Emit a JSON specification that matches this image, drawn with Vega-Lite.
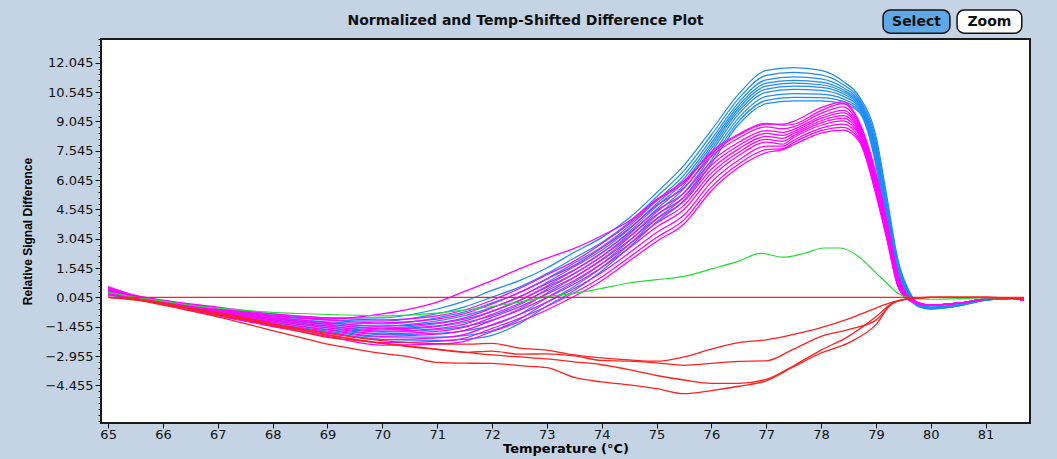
{
"$schema": "https://vega.github.io/schema/vega-lite/v6.json",
"width": 929, "height": 384,
"autosize": {"type": "none"},
"padding": {"left": 101, "top": 39, "right": 27, "bottom": 36},
"background": "#c4d4e4",
"config": {"view": {"fill": "white", "stroke": "#1a1a1a", "strokeWidth": 2}},
"title": {"text": "Normalized and Temp-Shifted Difference Plot", "font": "DejaVu Sans", "fontSize": 14, "fontWeight": "bold", "color": "#111", "anchor": "middle", "dx": -40, "offset": -19},
"datasets": {"curves": [
{"s":"R0","t":65,"v":0.045},{"s":"R0","t":81.7,"v":0.045},
{"s":"B1","t":65,"v":0.45},{"s":"B1","t":65.5,"v":0.08},{"s":"B1","t":66,"v":-0.15},{"s":"B1","t":67,"v":-0.5},{"s":"B1","t":68,"v":-0.8},{"s":"B1","t":69,"v":-1.0},{"s":"B1","t":70,"v":-1.0},{"s":"B1","t":71,"v":-0.55},{"s":"B1","t":71.5,"v":-0.15},{"s":"B1","t":72,"v":0.4},{"s":"B1","t":72.5,"v":0.9},{"s":"B1","t":73,"v":1.55},{"s":"B1","t":73.5,"v":2.35},{"s":"B1","t":74,"v":3.1},{"s":"B1","t":74.5,"v":4.1},{"s":"B1","t":75,"v":5.4},{"s":"B1","t":75.5,"v":6.8},{"s":"B1","t":76,"v":8.6},{"s":"B1","t":76.5,"v":10.45},{"s":"B1","t":77,"v":11.65},{"s":"B1","t":77.5,"v":11.8},{"s":"B1","t":78,"v":11.65},{"s":"B1","t":78.4,"v":11.1},{"s":"B1","t":78.7,"v":10.3},{"s":"B1","t":79,"v":8.3},{"s":"B1","t":79.2,"v":5.2},{"s":"B1","t":79.4,"v":2.0},{"s":"B1","t":79.6,"v":0.4},{"s":"B1","t":79.8,"v":-0.3},{"s":"B1","t":80,"v":-0.45},{"s":"B1","t":80.5,"v":-0.3},{"s":"B1","t":81,"v":-0.05},{"s":"B1","t":81.5,"v":0},{"s":"B1","t":81.7,"v":-0.1},
{"s":"B2","t":65,"v":0.41},{"s":"B2","t":65.5,"v":0.07},{"s":"B2","t":66,"v":-0.17},{"s":"B2","t":67,"v":-0.55},{"s":"B2","t":68,"v":-0.88},{"s":"B2","t":69,"v":-1.11},{"s":"B2","t":70,"v":-1.17},{"s":"B2","t":71,"v":-0.79},{"s":"B2","t":71.5,"v":-0.44},{"s":"B2","t":72,"v":0.06},{"s":"B2","t":72.5,"v":0.57},{"s":"B2","t":73,"v":1.26},{"s":"B2","t":73.5,"v":2.06},{"s":"B2","t":74,"v":2.85},{"s":"B2","t":74.5,"v":3.88},{"s":"B2","t":75,"v":5.18},{"s":"B2","t":75.5,"v":6.53},{"s":"B2","t":76,"v":8.35},{"s":"B2","t":76.5,"v":10.22},{"s":"B2","t":77,"v":11.4},{"s":"B2","t":77.5,"v":11.55},{"s":"B2","t":78,"v":11.42},{"s":"B2","t":78.4,"v":10.93},{"s":"B2","t":78.7,"v":10.18},{"s":"B2","t":79,"v":8.08},{"s":"B2","t":79.2,"v":4.95},{"s":"B2","t":79.4,"v":1.85},{"s":"B2","t":79.6,"v":0.34},{"s":"B2","t":79.8,"v":-0.32},{"s":"B2","t":80,"v":-0.47},{"s":"B2","t":80.5,"v":-0.32},{"s":"B2","t":81,"v":-0.06},{"s":"B2","t":81.5,"v":0.02},{"s":"B2","t":81.7,"v":-0.1},
{"s":"B3","t":65,"v":0.37},{"s":"B3","t":65.5,"v":0.05},{"s":"B3","t":66,"v":-0.18},{"s":"B3","t":67,"v":-0.6},{"s":"B3","t":68,"v":-0.95},{"s":"B3","t":69,"v":-1.21},{"s":"B3","t":70,"v":-1.31},{"s":"B3","t":71,"v":-1.0},{"s":"B3","t":71.5,"v":-0.7},{"s":"B3","t":72,"v":-0.24},{"s":"B3","t":72.5,"v":0.28},{"s":"B3","t":73,"v":1.0},{"s":"B3","t":73.5,"v":1.8},{"s":"B3","t":74,"v":2.62},{"s":"B3","t":74.5,"v":3.68},{"s":"B3","t":75,"v":4.98},{"s":"B3","t":75.5,"v":6.3},{"s":"B3","t":76,"v":8.12},{"s":"B3","t":76.5,"v":10.02},{"s":"B3","t":77,"v":11.17},{"s":"B3","t":77.5,"v":11.32},{"s":"B3","t":78,"v":11.22},{"s":"B3","t":78.4,"v":10.78},{"s":"B3","t":78.7,"v":10.08},{"s":"B3","t":79,"v":7.88},{"s":"B3","t":79.2,"v":4.72},{"s":"B3","t":79.4,"v":1.72},{"s":"B3","t":79.6,"v":0.29},{"s":"B3","t":79.8,"v":-0.34},{"s":"B3","t":80,"v":-0.48},{"s":"B3","t":80.5,"v":-0.33},{"s":"B3","t":81,"v":-0.06},{"s":"B3","t":81.5,"v":-0.01},{"s":"B3","t":81.7,"v":-0.1},
{"s":"B4","t":65,"v":0.34},{"s":"B4","t":65.5,"v":0.04},{"s":"B4","t":66,"v":-0.19},{"s":"B4","t":67,"v":-0.63},{"s":"B4","t":68,"v":-1.01},{"s":"B4","t":69,"v":-1.29},{"s":"B4","t":70,"v":-1.42},{"s":"B4","t":71,"v":-1.16},{"s":"B4","t":71.5,"v":-0.89},{"s":"B4","t":72,"v":-0.47},{"s":"B4","t":72.5,"v":0.06},{"s":"B4","t":73,"v":0.81},{"s":"B4","t":73.5,"v":1.61},{"s":"B4","t":74,"v":2.45},{"s":"B4","t":74.5,"v":3.53},{"s":"B4","t":75,"v":4.83},{"s":"B4","t":75.5,"v":6.12},{"s":"B4","t":76,"v":7.95},{"s":"B4","t":76.5,"v":9.86},{"s":"B4","t":77,"v":11.0},{"s":"B4","t":77.5,"v":11.15},{"s":"B4","t":78,"v":11.06},{"s":"B4","t":78.4,"v":10.66},{"s":"B4","t":78.7,"v":10.0},{"s":"B4","t":79,"v":7.73},{"s":"B4","t":79.2,"v":4.55},{"s":"B4","t":79.4,"v":1.62},{"s":"B4","t":79.6,"v":0.25},{"s":"B4","t":79.8,"v":-0.36},{"s":"B4","t":80,"v":-0.49},{"s":"B4","t":80.5,"v":-0.34},{"s":"B4","t":81,"v":-0.07},{"s":"B4","t":81.5,"v":0.01},{"s":"B4","t":81.7,"v":-0.1},
{"s":"B5","t":65,"v":0.31},{"s":"B5","t":65.5,"v":0.03},{"s":"B5","t":66,"v":-0.2},{"s":"B5","t":67,"v":-0.66},{"s":"B5","t":68,"v":-1.06},{"s":"B5","t":69,"v":-1.35},{"s":"B5","t":70,"v":-1.52},{"s":"B5","t":71,"v":-1.3},{"s":"B5","t":71.5,"v":-1.07},{"s":"B5","t":72,"v":-0.68},{"s":"B5","t":72.5,"v":-0.13},{"s":"B5","t":73,"v":0.63},{"s":"B5","t":73.5,"v":1.43},{"s":"B5","t":74,"v":2.3},{"s":"B5","t":74.5,"v":3.4},{"s":"B5","t":75,"v":4.7},{"s":"B5","t":75.5,"v":5.95},{"s":"B5","t":76,"v":7.8},{"s":"B5","t":76.5,"v":9.72},{"s":"B5","t":77,"v":10.85},{"s":"B5","t":77.5,"v":11.0},{"s":"B5","t":78,"v":10.92},{"s":"B5","t":78.4,"v":10.56},{"s":"B5","t":78.7,"v":9.92},{"s":"B5","t":79,"v":7.6},{"s":"B5","t":79.2,"v":4.4},{"s":"B5","t":79.4,"v":1.53},{"s":"B5","t":79.6,"v":0.21},{"s":"B5","t":79.8,"v":-0.37},{"s":"B5","t":80,"v":-0.5},{"s":"B5","t":80.5,"v":-0.35},{"s":"B5","t":81,"v":-0.07},{"s":"B5","t":81.5,"v":0},{"s":"B5","t":81.7,"v":-0.1},
{"s":"B6","t":65,"v":0.28},{"s":"B6","t":65.5,"v":0.02},{"s":"B6","t":66,"v":-0.21},{"s":"B6","t":67,"v":-0.7},{"s":"B6","t":68,"v":-1.11},{"s":"B6","t":69,"v":-1.42},{"s":"B6","t":70,"v":-1.62},{"s":"B6","t":71,"v":-1.45},{"s":"B6","t":71.5,"v":-1.24},{"s":"B6","t":72,"v":-0.89},{"s":"B6","t":72.5,"v":-0.33},{"s":"B6","t":73,"v":0.46},{"s":"B6","t":73.5,"v":1.26},{"s":"B6","t":74,"v":2.15},{"s":"B6","t":74.5,"v":3.26},{"s":"B6","t":75,"v":4.56},{"s":"B6","t":75.5,"v":5.79},{"s":"B6","t":76,"v":7.65},{"s":"B6","t":76.5,"v":9.58},{"s":"B6","t":77,"v":10.7},{"s":"B6","t":77.5,"v":10.85},{"s":"B6","t":78,"v":10.78},{"s":"B6","t":78.4,"v":10.46},{"s":"B6","t":78.7,"v":9.85},{"s":"B6","t":79,"v":7.46},{"s":"B6","t":79.2,"v":4.25},{"s":"B6","t":79.4,"v":1.44},{"s":"B6","t":79.6,"v":0.18},{"s":"B6","t":79.8,"v":-0.38},{"s":"B6","t":80,"v":-0.51},{"s":"B6","t":80.5,"v":-0.36},{"s":"B6","t":81,"v":-0.08},{"s":"B6","t":81.5,"v":-0.02},{"s":"B6","t":81.7,"v":-0.1},
{"s":"B7","t":65,"v":0.25},{"s":"B7","t":65.5,"v":0.01},{"s":"B7","t":66,"v":-0.22},{"s":"B7","t":67,"v":-0.73},{"s":"B7","t":68,"v":-1.16},{"s":"B7","t":69,"v":-1.5},{"s":"B7","t":70,"v":-1.73},{"s":"B7","t":71,"v":-1.61},{"s":"B7","t":71.5,"v":-1.44},{"s":"B7","t":72,"v":-1.12},{"s":"B7","t":72.5,"v":-0.55},{"s":"B7","t":73,"v":0.26},{"s":"B7","t":73.5,"v":1.06},{"s":"B7","t":74,"v":1.98},{"s":"B7","t":74.5,"v":3.11},{"s":"B7","t":75,"v":4.41},{"s":"B7","t":75.5,"v":5.61},{"s":"B7","t":76,"v":7.48},{"s":"B7","t":76.5,"v":9.43},{"s":"B7","t":77,"v":10.53},{"s":"B7","t":77.5,"v":10.68},{"s":"B7","t":78,"v":10.63},{"s":"B7","t":78.4,"v":10.34},{"s":"B7","t":78.7,"v":9.77},{"s":"B7","t":79,"v":7.31},{"s":"B7","t":79.2,"v":4.08},{"s":"B7","t":79.4,"v":1.34},{"s":"B7","t":79.6,"v":0.14},{"s":"B7","t":79.8,"v":-0.4},{"s":"B7","t":80,"v":-0.52},{"s":"B7","t":80.5,"v":-0.37},{"s":"B7","t":81,"v":-0.08},{"s":"B7","t":81.5,"v":0.01},{"s":"B7","t":81.7,"v":-0.1},
{"s":"B8","t":65,"v":0.22},{"s":"B8","t":65.5,"v":0},{"s":"B8","t":66,"v":-0.23},{"s":"B8","t":67,"v":-0.77},{"s":"B8","t":68,"v":-1.23},{"s":"B8","t":69,"v":-1.59},{"s":"B8","t":70,"v":-1.86},{"s":"B8","t":71,"v":-1.8},{"s":"B8","t":71.5,"v":-1.67},{"s":"B8","t":72,"v":-1.39},{"s":"B8","t":72.5,"v":-0.82},{"s":"B8","t":73,"v":0.03},{"s":"B8","t":73.5,"v":0.83},{"s":"B8","t":74,"v":1.77},{"s":"B8","t":74.5,"v":2.93},{"s":"B8","t":75,"v":4.23},{"s":"B8","t":75.5,"v":5.4},{"s":"B8","t":76,"v":7.27},{"s":"B8","t":76.5,"v":9.24},{"s":"B8","t":77,"v":10.32},{"s":"B8","t":77.5,"v":10.47},{"s":"B8","t":78,"v":10.44},{"s":"B8","t":78.4,"v":10.2},{"s":"B8","t":78.7,"v":9.68},{"s":"B8","t":79,"v":7.13},{"s":"B8","t":79.2,"v":3.87},{"s":"B8","t":79.4,"v":1.22},{"s":"B8","t":79.6,"v":0.09},{"s":"B8","t":79.8,"v":-0.42},{"s":"B8","t":80,"v":-0.53},{"s":"B8","t":80.5,"v":-0.38},{"s":"B8","t":81,"v":-0.09},{"s":"B8","t":81.5,"v":0},{"s":"B8","t":81.7,"v":-0.1},
{"s":"B9","t":65,"v":0.18},{"s":"B9","t":65.5,"v":-0.01},{"s":"B9","t":66,"v":-0.24},{"s":"B9","t":67,"v":-0.82},{"s":"B9","t":68,"v":-1.3},{"s":"B9","t":69,"v":-1.68},{"s":"B9","t":70,"v":-1.99},{"s":"B9","t":71,"v":-1.99},{"s":"B9","t":71.5,"v":-1.91},{"s":"B9","t":72,"v":-1.67},{"s":"B9","t":72.5,"v":-1.08},{"s":"B9","t":73,"v":-0.2},{"s":"B9","t":73.5,"v":0.6},{"s":"B9","t":74,"v":1.57},{"s":"B9","t":74.5,"v":2.75},{"s":"B9","t":75,"v":4.05},{"s":"B9","t":75.5,"v":5.18},{"s":"B9","t":76,"v":7.07},{"s":"B9","t":76.5,"v":9.06},{"s":"B9","t":77,"v":10.12},{"s":"B9","t":77.5,"v":10.27},{"s":"B9","t":78,"v":10.26},{"s":"B9","t":78.4,"v":10.07},{"s":"B9","t":78.7,"v":9.58},{"s":"B9","t":79,"v":6.95},{"s":"B9","t":79.2,"v":3.67},{"s":"B9","t":79.4,"v":1.1},{"s":"B9","t":79.6,"v":0.04},{"s":"B9","t":79.8,"v":-0.44},{"s":"B9","t":80,"v":-0.54},{"s":"B9","t":80.5,"v":-0.39},{"s":"B9","t":81,"v":-0.1},{"s":"B9","t":81.5,"v":-0.01},{"s":"B9","t":81.7,"v":-0.1},
{"s":"B10","t":65,"v":0.15},{"s":"B10","t":65.5,"v":-0.02},{"s":"B10","t":66,"v":-0.25},{"s":"B10","t":67,"v":-0.85},{"s":"B10","t":68,"v":-1.35},{"s":"B10","t":69,"v":-1.75},{"s":"B10","t":70,"v":-2.1},{"s":"B10","t":71,"v":-2.15},{"s":"B10","t":71.5,"v":-2.1},{"s":"B10","t":72,"v":-1.9},{"s":"B10","t":72.5,"v":-1.3},{"s":"B10","t":73,"v":-0.4},{"s":"B10","t":73.5,"v":0.4},{"s":"B10","t":74,"v":1.4},{"s":"B10","t":74.5,"v":2.6},{"s":"B10","t":75,"v":3.9},{"s":"B10","t":75.5,"v":5.0},{"s":"B10","t":76,"v":6.9},{"s":"B10","t":76.5,"v":8.9},{"s":"B10","t":77,"v":9.95},{"s":"B10","t":77.5,"v":10.1},{"s":"B10","t":78,"v":10.1},{"s":"B10","t":78.4,"v":9.95},{"s":"B10","t":78.7,"v":9.5},{"s":"B10","t":79,"v":6.8},{"s":"B10","t":79.2,"v":3.5},{"s":"B10","t":79.4,"v":1.0},{"s":"B10","t":79.6,"v":0},{"s":"B10","t":79.8,"v":-0.45},{"s":"B10","t":80,"v":-0.55},{"s":"B10","t":80.5,"v":-0.4},{"s":"B10","t":81,"v":-0.1},{"s":"B10","t":81.5,"v":0},{"s":"B10","t":81.7,"v":-0.1},
{"s":"M1","t":65,"v":0.55},{"s":"M1","t":65.5,"v":0.1},{"s":"M1","t":66,"v":-0.15},{"s":"M1","t":67,"v":-0.55},{"s":"M1","t":68,"v":-0.9},{"s":"M1","t":69,"v":-1.05},{"s":"M1","t":70,"v":-0.8},{"s":"M1","t":71,"v":-0.2},{"s":"M1","t":71.5,"v":0.35},{"s":"M1","t":72,"v":0.9},{"s":"M1","t":72.5,"v":1.5},{"s":"M1","t":73,"v":2.05},{"s":"M1","t":73.5,"v":2.55},{"s":"M1","t":74,"v":3.2},{"s":"M1","t":74.5,"v":3.95},{"s":"M1","t":75,"v":5.05},{"s":"M1","t":75.5,"v":6.0},{"s":"M1","t":76,"v":7.4},{"s":"M1","t":76.5,"v":8.35},{"s":"M1","t":77,"v":8.9},{"s":"M1","t":77.3,"v":8.9},{"s":"M1","t":77.5,"v":9.05},{"s":"M1","t":78,"v":9.75},{"s":"M1","t":78.4,"v":10.05},{"s":"M1","t":78.7,"v":9.0},{"s":"M1","t":79,"v":6.4},{"s":"M1","t":79.2,"v":3.95},{"s":"M1","t":79.4,"v":1.25},{"s":"M1","t":79.6,"v":0.06},{"s":"M1","t":79.8,"v":-0.25},{"s":"M1","t":80,"v":-0.35},{"s":"M1","t":80.5,"v":-0.25},{"s":"M1","t":81,"v":-0.05},{"s":"M1","t":81.5,"v":0},{"s":"M1","t":81.7,"v":-0.1},
{"s":"M2","t":65,"v":0.6},{"s":"M2","t":65.5,"v":0.15},{"s":"M2","t":66,"v":-0.1},{"s":"M2","t":67,"v":-0.45},{"s":"M2","t":68,"v":-0.8},{"s":"M2","t":69,"v":-1.0},{"s":"M2","t":70,"v":-1.1},{"s":"M2","t":71,"v":-0.9},{"s":"M2","t":71.5,"v":-0.6},{"s":"M2","t":72,"v":-0.1},{"s":"M2","t":72.5,"v":0.5},{"s":"M2","t":73,"v":1.2},{"s":"M2","t":73.5,"v":1.9},{"s":"M2","t":74,"v":2.8},{"s":"M2","t":74.5,"v":3.8},{"s":"M2","t":75,"v":5.0},{"s":"M2","t":75.5,"v":5.9},{"s":"M2","t":76,"v":7.5},{"s":"M2","t":76.5,"v":8.4},{"s":"M2","t":77,"v":8.95},{"s":"M2","t":77.3,"v":8.85},{"s":"M2","t":77.5,"v":8.9},{"s":"M2","t":78,"v":9.6},{"s":"M2","t":78.4,"v":9.95},{"s":"M2","t":78.7,"v":8.9},{"s":"M2","t":79,"v":6.3},{"s":"M2","t":79.2,"v":3.9},{"s":"M2","t":79.4,"v":1.2},{"s":"M2","t":79.6,"v":0.05},{"s":"M2","t":79.8,"v":-0.25},{"s":"M2","t":80,"v":-0.35},{"s":"M2","t":80.5,"v":-0.25},{"s":"M2","t":81,"v":-0.05},{"s":"M2","t":81.5,"v":0},{"s":"M2","t":81.7,"v":-0.1},
{"s":"M3","t":65,"v":0.55},{"s":"M3","t":65.5,"v":0.13},{"s":"M3","t":66,"v":-0.12},{"s":"M3","t":67,"v":-0.5},{"s":"M3","t":68,"v":-0.88},{"s":"M3","t":69,"v":-1.11},{"s":"M3","t":70,"v":-1.26},{"s":"M3","t":71,"v":-1.07},{"s":"M3","t":71.5,"v":-0.79},{"s":"M3","t":72,"v":-0.29},{"s":"M3","t":72.5,"v":0.3},{"s":"M3","t":73,"v":0.98},{"s":"M3","t":73.5,"v":1.68},{"s":"M3","t":74,"v":2.57},{"s":"M3","t":74.5,"v":3.57},{"s":"M3","t":75,"v":4.75},{"s":"M3","t":75.5,"v":5.65},{"s":"M3","t":76,"v":7.26},{"s":"M3","t":76.5,"v":8.2},{"s":"M3","t":77,"v":8.77},{"s":"M3","t":77.3,"v":8.67},{"s":"M3","t":77.5,"v":8.77},{"s":"M3","t":78,"v":9.46},{"s":"M3","t":78.4,"v":9.79},{"s":"M3","t":78.7,"v":8.79},{"s":"M3","t":79,"v":6.18},{"s":"M3","t":79.2,"v":3.79},{"s":"M3","t":79.4,"v":1.13},{"s":"M3","t":79.6,"v":0.03},{"s":"M3","t":79.8,"v":-0.26},{"s":"M3","t":80,"v":-0.35},{"s":"M3","t":80.5,"v":-0.25},{"s":"M3","t":81,"v":-0.05},{"s":"M3","t":81.5,"v":0},{"s":"M3","t":81.7,"v":-0.1},
{"s":"M4","t":65,"v":0.5},{"s":"M4","t":65.5,"v":0.1},{"s":"M4","t":66,"v":-0.15},{"s":"M4","t":67,"v":-0.56},{"s":"M4","t":68,"v":-0.96},{"s":"M4","t":69,"v":-1.24},{"s":"M4","t":70,"v":-1.43},{"s":"M4","t":71,"v":-1.26},{"s":"M4","t":71.5,"v":-1.0},{"s":"M4","t":72,"v":-0.5},{"s":"M4","t":72.5,"v":0.08},{"s":"M4","t":73,"v":0.75},{"s":"M4","t":73.5,"v":1.45},{"s":"M4","t":74,"v":2.33},{"s":"M4","t":74.5,"v":3.33},{"s":"M4","t":75,"v":4.48},{"s":"M4","t":75.5,"v":5.38},{"s":"M4","t":76,"v":7.0},{"s":"M4","t":76.5,"v":7.98},{"s":"M4","t":77,"v":8.58},{"s":"M4","t":77.3,"v":8.48},{"s":"M4","t":77.5,"v":8.64},{"s":"M4","t":78,"v":9.31},{"s":"M4","t":78.4,"v":9.61},{"s":"M4","t":78.7,"v":8.68},{"s":"M4","t":79,"v":6.05},{"s":"M4","t":79.2,"v":3.68},{"s":"M4","t":79.4,"v":1.05},{"s":"M4","t":79.6,"v":0.01},{"s":"M4","t":79.8,"v":-0.26},{"s":"M4","t":80,"v":-0.35},{"s":"M4","t":80.5,"v":-0.25},{"s":"M4","t":81,"v":-0.05},{"s":"M4","t":81.5,"v":0},{"s":"M4","t":81.7,"v":-0.1},
{"s":"M5","t":65,"v":0.46},{"s":"M5","t":65.5,"v":0.08},{"s":"M5","t":66,"v":-0.17},{"s":"M5","t":67,"v":-0.61},{"s":"M5","t":68,"v":-1.03},{"s":"M5","t":69,"v":-1.33},{"s":"M5","t":70,"v":-1.56},{"s":"M5","t":71,"v":-1.41},{"s":"M5","t":71.5,"v":-1.16},{"s":"M5","t":72,"v":-0.66},{"s":"M5","t":72.5,"v":-0.1},{"s":"M5","t":73,"v":0.57},{"s":"M5","t":73.5,"v":1.27},{"s":"M5","t":74,"v":2.14},{"s":"M5","t":74.5,"v":3.14},{"s":"M5","t":75,"v":4.27},{"s":"M5","t":75.5,"v":5.17},{"s":"M5","t":76,"v":6.8},{"s":"M5","t":76.5,"v":7.81},{"s":"M5","t":77,"v":8.43},{"s":"M5","t":77.3,"v":8.33},{"s":"M5","t":77.5,"v":8.53},{"s":"M5","t":78,"v":9.2},{"s":"M5","t":78.4,"v":9.48},{"s":"M5","t":78.7,"v":8.59},{"s":"M5","t":79,"v":5.95},{"s":"M5","t":79.2,"v":3.59},{"s":"M5","t":79.4,"v":0.99},{"s":"M5","t":79.6,"v":0},{"s":"M5","t":79.8,"v":-0.27},{"s":"M5","t":80,"v":-0.35},{"s":"M5","t":80.5,"v":-0.25},{"s":"M5","t":81,"v":-0.05},{"s":"M5","t":81.5,"v":0},{"s":"M5","t":81.7,"v":-0.1},
{"s":"M6","t":65,"v":0.42},{"s":"M6","t":65.5,"v":0.06},{"s":"M6","t":66,"v":-0.19},{"s":"M6","t":67,"v":-0.65},{"s":"M6","t":68,"v":-1.09},{"s":"M6","t":69,"v":-1.43},{"s":"M6","t":70,"v":-1.69},{"s":"M6","t":71,"v":-1.55},{"s":"M6","t":71.5,"v":-1.32},{"s":"M6","t":72,"v":-0.82},{"s":"M6","t":72.5,"v":-0.27},{"s":"M6","t":73,"v":0.39},{"s":"M6","t":73.5,"v":1.09},{"s":"M6","t":74,"v":1.95},{"s":"M6","t":74.5,"v":2.95},{"s":"M6","t":75,"v":4.06},{"s":"M6","t":75.5,"v":4.96},{"s":"M6","t":76,"v":6.6},{"s":"M6","t":76.5,"v":7.64},{"s":"M6","t":77,"v":8.28},{"s":"M6","t":77.3,"v":8.18},{"s":"M6","t":77.5,"v":8.43},{"s":"M6","t":78,"v":9.08},{"s":"M6","t":78.4,"v":9.34},{"s":"M6","t":78.7,"v":8.5},{"s":"M6","t":79,"v":5.85},{"s":"M6","t":79.2,"v":3.5},{"s":"M6","t":79.4,"v":0.93},{"s":"M6","t":79.6,"v":-0.02},{"s":"M6","t":79.8,"v":-0.27},{"s":"M6","t":80,"v":-0.35},{"s":"M6","t":80.5,"v":-0.25},{"s":"M6","t":81,"v":-0.05},{"s":"M6","t":81.5,"v":0},{"s":"M6","t":81.7,"v":-0.1},
{"s":"M7","t":65,"v":0.38},{"s":"M7","t":65.5,"v":0.04},{"s":"M7","t":66,"v":-0.21},{"s":"M7","t":67,"v":-0.7},{"s":"M7","t":68,"v":-1.16},{"s":"M7","t":69,"v":-1.52},{"s":"M7","t":70,"v":-1.82},{"s":"M7","t":71,"v":-1.7},{"s":"M7","t":71.5,"v":-1.48},{"s":"M7","t":72,"v":-0.98},{"s":"M7","t":72.5,"v":-0.44},{"s":"M7","t":73,"v":0.21},{"s":"M7","t":73.5,"v":0.91},{"s":"M7","t":74,"v":1.76},{"s":"M7","t":74.5,"v":2.76},{"s":"M7","t":75,"v":3.85},{"s":"M7","t":75.5,"v":4.75},{"s":"M7","t":76,"v":6.4},{"s":"M7","t":76.5,"v":7.47},{"s":"M7","t":77,"v":8.13},{"s":"M7","t":77.3,"v":8.03},{"s":"M7","t":77.5,"v":8.32},{"s":"M7","t":78,"v":8.97},{"s":"M7","t":78.4,"v":9.21},{"s":"M7","t":78.7,"v":8.41},{"s":"M7","t":79,"v":5.75},{"s":"M7","t":79.2,"v":3.41},{"s":"M7","t":79.4,"v":0.87},{"s":"M7","t":79.6,"v":-0.03},{"s":"M7","t":79.8,"v":-0.28},{"s":"M7","t":80,"v":-0.35},{"s":"M7","t":80.5,"v":-0.25},{"s":"M7","t":81,"v":-0.05},{"s":"M7","t":81.5,"v":0},{"s":"M7","t":81.7,"v":-0.1},
{"s":"M8","t":65,"v":0.34},{"s":"M8","t":65.5,"v":0.02},{"s":"M8","t":66,"v":-0.23},{"s":"M8","t":67,"v":-0.74},{"s":"M8","t":68,"v":-1.22},{"s":"M8","t":69,"v":-1.62},{"s":"M8","t":70,"v":-1.95},{"s":"M8","t":71,"v":-1.84},{"s":"M8","t":71.5,"v":-1.64},{"s":"M8","t":72,"v":-1.14},{"s":"M8","t":72.5,"v":-0.61},{"s":"M8","t":73,"v":0.03},{"s":"M8","t":73.5,"v":0.73},{"s":"M8","t":74,"v":1.57},{"s":"M8","t":74.5,"v":2.57},{"s":"M8","t":75,"v":3.64},{"s":"M8","t":75.5,"v":4.54},{"s":"M8","t":76,"v":6.2},{"s":"M8","t":76.5,"v":7.3},{"s":"M8","t":77,"v":7.98},{"s":"M8","t":77.3,"v":7.88},{"s":"M8","t":77.5,"v":8.22},{"s":"M8","t":78,"v":8.85},{"s":"M8","t":78.4,"v":9.07},{"s":"M8","t":78.7,"v":8.32},{"s":"M8","t":79,"v":5.65},{"s":"M8","t":79.2,"v":3.32},{"s":"M8","t":79.4,"v":0.81},{"s":"M8","t":79.6,"v":-0.05},{"s":"M8","t":79.8,"v":-0.28},{"s":"M8","t":80,"v":-0.35},{"s":"M8","t":80.5,"v":-0.25},{"s":"M8","t":81,"v":-0.05},{"s":"M8","t":81.5,"v":0},{"s":"M8","t":81.7,"v":-0.1},
{"s":"M9","t":65,"v":0.29},{"s":"M9","t":65.5,"v":-0.01},{"s":"M9","t":66,"v":-0.26},{"s":"M9","t":67,"v":-0.8},{"s":"M9","t":68,"v":-1.31},{"s":"M9","t":69,"v":-1.74},{"s":"M9","t":70,"v":-2.11},{"s":"M9","t":71,"v":-2.03},{"s":"M9","t":71.5,"v":-1.85},{"s":"M9","t":72,"v":-1.35},{"s":"M9","t":72.5,"v":-0.83},{"s":"M9","t":73,"v":-0.2},{"s":"M9","t":73.5,"v":0.5},{"s":"M9","t":74,"v":1.32},{"s":"M9","t":74.5,"v":2.32},{"s":"M9","t":75,"v":3.36},{"s":"M9","t":75.5,"v":4.26},{"s":"M9","t":76,"v":5.94},{"s":"M9","t":76.5,"v":7.07},{"s":"M9","t":77,"v":7.78},{"s":"M9","t":77.3,"v":7.78},{"s":"M9","t":77.5,"v":8.08},{"s":"M9","t":78,"v":8.7},{"s":"M9","t":78.4,"v":8.9},{"s":"M9","t":78.7,"v":8.2},{"s":"M9","t":79,"v":5.52},{"s":"M9","t":79.2,"v":3.2},{"s":"M9","t":79.4,"v":0.73},{"s":"M9","t":79.6,"v":-0.07},{"s":"M9","t":79.8,"v":-0.29},{"s":"M9","t":80,"v":-0.35},{"s":"M9","t":80.5,"v":-0.25},{"s":"M9","t":81,"v":-0.05},{"s":"M9","t":81.5,"v":0},{"s":"M9","t":81.7,"v":-0.1},
{"s":"M10","t":65,"v":0.24},{"s":"M10","t":65.5,"v":-0.03},{"s":"M10","t":66,"v":-0.28},{"s":"M10","t":67,"v":-0.86},{"s":"M10","t":68,"v":-1.39},{"s":"M10","t":69,"v":-1.86},{"s":"M10","t":70,"v":-2.27},{"s":"M10","t":71,"v":-2.21},{"s":"M10","t":71.5,"v":-2.04},{"s":"M10","t":72,"v":-1.54},{"s":"M10","t":72.5,"v":-1.03},{"s":"M10","t":73,"v":-0.42},{"s":"M10","t":73.5,"v":0.28},{"s":"M10","t":74,"v":1.09},{"s":"M10","t":74.5,"v":2.09},{"s":"M10","t":75,"v":3.11},{"s":"M10","t":75.5,"v":4.01},{"s":"M10","t":76,"v":5.7},{"s":"M10","t":76.5,"v":6.87},{"s":"M10","t":77,"v":7.6},{"s":"M10","t":77.3,"v":7.65},{"s":"M10","t":77.5,"v":7.96},{"s":"M10","t":78,"v":8.57},{"s":"M10","t":78.4,"v":8.74},{"s":"M10","t":78.7,"v":8.09},{"s":"M10","t":79,"v":5.4},{"s":"M10","t":79.2,"v":3.09},{"s":"M10","t":79.4,"v":0.66},{"s":"M10","t":79.6,"v":-0.09},{"s":"M10","t":79.8,"v":-0.3},{"s":"M10","t":80,"v":-0.35},{"s":"M10","t":80.5,"v":-0.25},{"s":"M10","t":81,"v":-0.05},{"s":"M10","t":81.5,"v":0},{"s":"M10","t":81.7,"v":-0.1},
{"s":"M11","t":65,"v":0.2},{"s":"M11","t":65.5,"v":-0.05},{"s":"M11","t":66,"v":-0.3},{"s":"M11","t":67,"v":-0.9},{"s":"M11","t":68,"v":-1.45},{"s":"M11","t":69,"v":-1.95},{"s":"M11","t":70,"v":-2.4},{"s":"M11","t":71,"v":-2.35},{"s":"M11","t":71.5,"v":-2.2},{"s":"M11","t":72,"v":-1.7},{"s":"M11","t":72.5,"v":-1.2},{"s":"M11","t":73,"v":-0.6},{"s":"M11","t":73.5,"v":0.1},{"s":"M11","t":74,"v":0.9},{"s":"M11","t":74.5,"v":1.9},{"s":"M11","t":75,"v":2.9},{"s":"M11","t":75.5,"v":3.8},{"s":"M11","t":76,"v":5.5},{"s":"M11","t":76.5,"v":6.7},{"s":"M11","t":77,"v":7.45},{"s":"M11","t":77.3,"v":7.6},{"s":"M11","t":77.5,"v":7.85},{"s":"M11","t":78,"v":8.45},{"s":"M11","t":78.4,"v":8.6},{"s":"M11","t":78.7,"v":8.0},{"s":"M11","t":79,"v":5.3},{"s":"M11","t":79.2,"v":3.0},{"s":"M11","t":79.4,"v":0.6},{"s":"M11","t":79.6,"v":-0.1},{"s":"M11","t":79.8,"v":-0.3},{"s":"M11","t":80,"v":-0.35},{"s":"M11","t":80.5,"v":-0.25},{"s":"M11","t":81,"v":-0.05},{"s":"M11","t":81.5,"v":0},{"s":"M11","t":81.7,"v":-0.1},
{"s":"G1","t":65,"v":0.3},{"s":"G1","t":65.5,"v":0.05},{"s":"G1","t":66,"v":-0.15},{"s":"G1","t":66.5,"v":-0.35},{"s":"G1","t":67,"v":-0.5},{"s":"G1","t":67.5,"v":-0.62},{"s":"G1","t":68,"v":-0.72},{"s":"G1","t":68.5,"v":-0.78},{"s":"G1","t":69,"v":-0.83},{"s":"G1","t":69.5,"v":-0.87},{"s":"G1","t":70,"v":-0.9},{"s":"G1","t":70.5,"v":-0.86},{"s":"G1","t":71,"v":-0.76},{"s":"G1","t":71.5,"v":-0.6},{"s":"G1","t":72,"v":-0.42},{"s":"G1","t":72.5,"v":-0.2},{"s":"G1","t":73,"v":0.08},{"s":"G1","t":73.5,"v":0.25},{"s":"G1","t":74,"v":0.5},{"s":"G1","t":74.5,"v":0.78},{"s":"G1","t":75,"v":0.95},{"s":"G1","t":75.5,"v":1.12},{"s":"G1","t":76,"v":1.5},{"s":"G1","t":76.5,"v":1.9},{"s":"G1","t":76.9,"v":2.3},{"s":"G1","t":77.3,"v":2.1},{"s":"G1","t":77.7,"v":2.3},{"s":"G1","t":78.05,"v":2.57},{"s":"G1","t":78.35,"v":2.57},{"s":"G1","t":78.7,"v":2.1},{"s":"G1","t":79,"v":1.3},{"s":"G1","t":79.2,"v":0.77},{"s":"G1","t":79.4,"v":0.26},{"s":"G1","t":79.6,"v":0.03},{"s":"G1","t":80,"v":-0.05},{"s":"G1","t":80.5,"v":-0.02},{"s":"G1","t":81,"v":0.02},{"s":"G1","t":81.7,"v":-0.05},
{"s":"RA","t":65,"v":0.05},{"s":"RA","t":65.5,"v":-0.05},{"s":"RA","t":66,"v":-0.25},{"s":"RA","t":66.5,"v":-0.5},{"s":"RA","t":67,"v":-0.75},{"s":"RA","t":67.5,"v":-1.0},{"s":"RA","t":68,"v":-1.3},{"s":"RA","t":68.5,"v":-1.55},{"s":"RA","t":69,"v":-1.8},{"s":"RA","t":69.5,"v":-2.0},{"s":"RA","t":70,"v":-2.17},{"s":"RA","t":70.5,"v":-2.27},{"s":"RA","t":71,"v":-2.32},{"s":"RA","t":71.5,"v":-2.35},{"s":"RA","t":72,"v":-2.31},{"s":"RA","t":72.5,"v":-2.55},{"s":"RA","t":73,"v":-2.65},{"s":"RA","t":73.5,"v":-2.9},{"s":"RA","t":74,"v":-3.05},{"s":"RA","t":74.5,"v":-3.15},{"s":"RA","t":75,"v":-3.22},{"s":"RA","t":75.5,"v":-3.0},{"s":"RA","t":76,"v":-2.6},{"s":"RA","t":76.5,"v":-2.27},{"s":"RA","t":77,"v":-2.13},{"s":"RA","t":77.5,"v":-1.85},{"s":"RA","t":78,"v":-1.5},{"s":"RA","t":78.5,"v":-1.05},{"s":"RA","t":79,"v":-0.5},{"s":"RA","t":79.3,"v":-0.2},{"s":"RA","t":79.6,"v":-0.02},{"s":"RA","t":80,"v":0.05},{"s":"RA","t":80.5,"v":0.05},{"s":"RA","t":81,"v":0.05},{"s":"RA","t":81.5,"v":0.0},{"s":"RA","t":81.7,"v":-0.05},
{"s":"RB","t":65,"v":0.05},{"s":"RB","t":65.5,"v":-0.05},{"s":"RB","t":66,"v":-0.25},{"s":"RB","t":66.5,"v":-0.5},{"s":"RB","t":67,"v":-0.8},{"s":"RB","t":67.5,"v":-1.05},{"s":"RB","t":68,"v":-1.35},{"s":"RB","t":68.5,"v":-1.6},{"s":"RB","t":69,"v":-1.9},{"s":"RB","t":69.5,"v":-2.1},{"s":"RB","t":70,"v":-2.31},{"s":"RB","t":70.5,"v":-2.48},{"s":"RB","t":71,"v":-2.62},{"s":"RB","t":71.5,"v":-2.77},{"s":"RB","t":72,"v":-2.7},{"s":"RB","t":72.5,"v":-2.86},{"s":"RB","t":73,"v":-2.84},{"s":"RB","t":73.5,"v":-2.95},{"s":"RB","t":74,"v":-3.18},{"s":"RB","t":74.5,"v":-3.22},{"s":"RB","t":75,"v":-3.3},{"s":"RB","t":75.5,"v":-3.43},{"s":"RB","t":76,"v":-3.33},{"s":"RB","t":76.5,"v":-3.23},{"s":"RB","t":77,"v":-3.2},{"s":"RB","t":77.5,"v":-2.6},{"s":"RB","t":78,"v":-1.95},{"s":"RB","t":78.5,"v":-1.6},{"s":"RB","t":79,"v":-1.12},{"s":"RB","t":79.3,"v":-0.28},{"s":"RB","t":79.6,"v":-0.02},{"s":"RB","t":80,"v":0.05},{"s":"RB","t":80.5,"v":0.05},{"s":"RB","t":81,"v":0.05},{"s":"RB","t":81.5,"v":0.0},{"s":"RB","t":81.7,"v":-0.05},
{"s":"RD","t":65,"v":0.05},{"s":"RD","t":65.5,"v":-0.05},{"s":"RD","t":66,"v":-0.3},{"s":"RD","t":66.5,"v":-0.55},{"s":"RD","t":67,"v":-0.85},{"s":"RD","t":67.5,"v":-1.1},{"s":"RD","t":68,"v":-1.4},{"s":"RD","t":68.5,"v":-1.7},{"s":"RD","t":69,"v":-2.0},{"s":"RD","t":69.5,"v":-2.15},{"s":"RD","t":70,"v":-2.3},{"s":"RD","t":70.5,"v":-2.45},{"s":"RD","t":71,"v":-2.6},{"s":"RD","t":71.5,"v":-2.75},{"s":"RD","t":72,"v":-2.9},{"s":"RD","t":72.5,"v":-3.0},{"s":"RD","t":73,"v":-3.1},{"s":"RD","t":73.5,"v":-3.25},{"s":"RD","t":74,"v":-3.4},{"s":"RD","t":74.5,"v":-3.65},{"s":"RD","t":75,"v":-3.95},{"s":"RD","t":75.5,"v":-4.18},{"s":"RD","t":76,"v":-4.35},{"s":"RD","t":76.5,"v":-4.35},{"s":"RD","t":77,"v":-4.15},{"s":"RD","t":77.5,"v":-3.45},{"s":"RD","t":78,"v":-2.65},{"s":"RD","t":78.5,"v":-1.95},{"s":"RD","t":79,"v":-0.95},{"s":"RD","t":79.3,"v":-0.25},{"s":"RD","t":79.6,"v":-0.03},{"s":"RD","t":80,"v":0.05},{"s":"RD","t":80.5,"v":0.05},{"s":"RD","t":81,"v":0.05},{"s":"RD","t":81.5,"v":0.0},{"s":"RD","t":81.7,"v":-0.05},
{"s":"RC","t":65,"v":0.05},{"s":"RC","t":65.5,"v":-0.1},{"s":"RC","t":66,"v":-0.35},{"s":"RC","t":66.5,"v":-0.65},{"s":"RC","t":67,"v":-0.95},{"s":"RC","t":67.5,"v":-1.3},{"s":"RC","t":68,"v":-1.65},{"s":"RC","t":68.5,"v":-2.0},{"s":"RC","t":69,"v":-2.35},{"s":"RC","t":69.5,"v":-2.6},{"s":"RC","t":70,"v":-2.82},{"s":"RC","t":70.5,"v":-3.0},{"s":"RC","t":71,"v":-3.28},{"s":"RC","t":71.5,"v":-3.32},{"s":"RC","t":72,"v":-3.33},{"s":"RC","t":72.5,"v":-3.45},{"s":"RC","t":73,"v":-3.55},{"s":"RC","t":73.5,"v":-4.05},{"s":"RC","t":74,"v":-4.28},{"s":"RC","t":74.5,"v":-4.43},{"s":"RC","t":75,"v":-4.62},{"s":"RC","t":75.5,"v":-4.88},{"s":"RC","t":76,"v":-4.72},{"s":"RC","t":76.5,"v":-4.5},{"s":"RC","t":77,"v":-4.22},{"s":"RC","t":77.5,"v":-3.5},{"s":"RC","t":78,"v":-2.8},{"s":"RC","t":78.5,"v":-2.28},{"s":"RC","t":79,"v":-1.35},{"s":"RC","t":79.3,"v":-0.25},{"s":"RC","t":79.6,"v":-0.04},{"s":"RC","t":80,"v":0.05},{"s":"RC","t":80.5,"v":0.05},{"s":"RC","t":81,"v":0.05},{"s":"RC","t":81.5,"v":0.0},{"s":"RC","t":81.7,"v":-0.05}
]},
"layer": [
{
"data": {"name": "curves"},
"encoding": {
"x": {"field": "t", "type": "quantitative",
"scale": {"domain": [64.87, 81.81], "nice": false, "zero": false},
"axis": {"title": "Temperature (°C)", "values": [65,66,67,68,69,70,71,72,73,74,75,76,77,78,79,80,81], "tickCount": 100, "format": "d", "grid": false, "domain": false, "tickSize": 5, "tickColor": "#111", "labelFont": "DejaVu Sans", "labelFontSize": 13, "labelColor": "#111", "labelPadding": 0, "labelFlush": false, "titleFont": "DejaVu Sans", "titleFontSize": 13, "titleFontWeight": "bold", "titleColor": "#000", "titlePadding": 1}},
"y": {"field": "v", "type": "quantitative",
"scale": {"domain": [-6.38, 13.26], "nice": false, "zero": false},
"axis": {"title": "Relative Signal Difference", "tickCount": 200, "values": [-6.255,-5.955,-5.655,-5.355,-5.055,-4.755,-4.455,-4.155,-3.855,-3.555,-3.255,-2.955,-2.655,-2.355,-2.055,-1.755,-1.455,-1.155,-0.855,-0.555,-0.255,0.045,0.345,0.645,0.945,1.245,1.545,1.845,2.145,2.445,2.745,3.045,3.345,3.645,3.945,4.245,4.545,4.845,5.145,5.445,5.745,6.045,6.345,6.645,6.945,7.245,7.545,7.845,8.145,8.445,8.745,9.045,9.345,9.645,9.945,10.245,10.545,10.845,11.145,11.445,11.745,12.045,12.345,12.645,12.945,13.245],
"labelExpr": "datum.value > -5 && abs((datum.value-0.045)/1.5 - round((datum.value-0.045)/1.5)) < 0.01 ? format(datum.value, '.3f') : ''",
"tickSize": {"condition": {"test": "datum.value > -5 && abs((datum.value-0.045)/1.5 - round((datum.value-0.045)/1.5)) < 0.01", "value": 6}, "value": 3},
"labelOverlap": false, "grid": false, "domain": false, "tickColor": "#111", "labelFont": "DejaVu Sans", "labelFontSize": 13, "labelColor": "#111", "labelPadding": 2, "titleFont": "Liberation Sans Narrow, Liberation Sans, sans-serif", "titleFontSize": 12, "titleFontWeight": "bold", "titleColor": "#000", "titlePadding": 10}},
"detail": {"field": "s"}
},
"layer": [
{"transform": [{"filter": "test(/^B/, datum.s)"}], "mark": {"type": "line", "color": "#1e8cf5", "strokeWidth": 1.25, "interpolate": "monotone"}},
{"transform": [{"filter": "test(/^M/, datum.s)"}], "mark": {"type": "line", "color": "#ff00ff", "strokeWidth": 1.25, "interpolate": "monotone"}},
{"transform": [{"filter": "test(/^G/, datum.s)"}], "mark": {"type": "line", "color": "#22dd33", "strokeWidth": 1.2, "interpolate": "monotone"}},
{"transform": [{"filter": "test(/^R/, datum.s)"}], "mark": {"type": "line", "color": "#ff2020", "strokeWidth": 1.3, "interpolate": "monotone"}}
]
},
{
"data": {"values": [{"b": "Select"}]},
"mark": {"type": "rect", "fill": "#5ea8e8", "stroke": "#111", "strokeWidth": 1.5, "cornerRadius": 7},
"encoding": {"x": {"datum": 79.13, "type": "quantitative"}, "x2": {"datum": 80.35}, "y": {"datum": 14.74, "type": "quantitative"}, "y2": {"datum": 13.56}}
},
{
"data": {"values": [{"b": "Select"}]},
"mark": {"type": "text", "font": "DejaVu Sans", "fontSize": 14, "fontWeight": "bold", "color": "#111"},
"encoding": {"x": {"datum": 79.74, "type": "quantitative"}, "y": {"datum": 14.15, "type": "quantitative"}, "text": {"field": "b"}}
},
{
"data": {"values": [{"b": "Zoom"}]},
"mark": {"type": "rect", "fill": "white", "stroke": "#111", "strokeWidth": 1.5, "cornerRadius": 7},
"encoding": {"x": {"datum": 80.48, "type": "quantitative"}, "x2": {"datum": 81.66}, "y": {"datum": 14.74, "type": "quantitative"}, "y2": {"datum": 13.56}}
},
{
"data": {"values": [{"b": "Zoom"}]},
"mark": {"type": "text", "font": "DejaVu Sans", "fontSize": 14, "fontWeight": "bold", "color": "#111"},
"encoding": {"x": {"datum": 81.07, "type": "quantitative"}, "y": {"datum": 14.15, "type": "quantitative"}, "text": {"field": "b"}}
}
]
}
